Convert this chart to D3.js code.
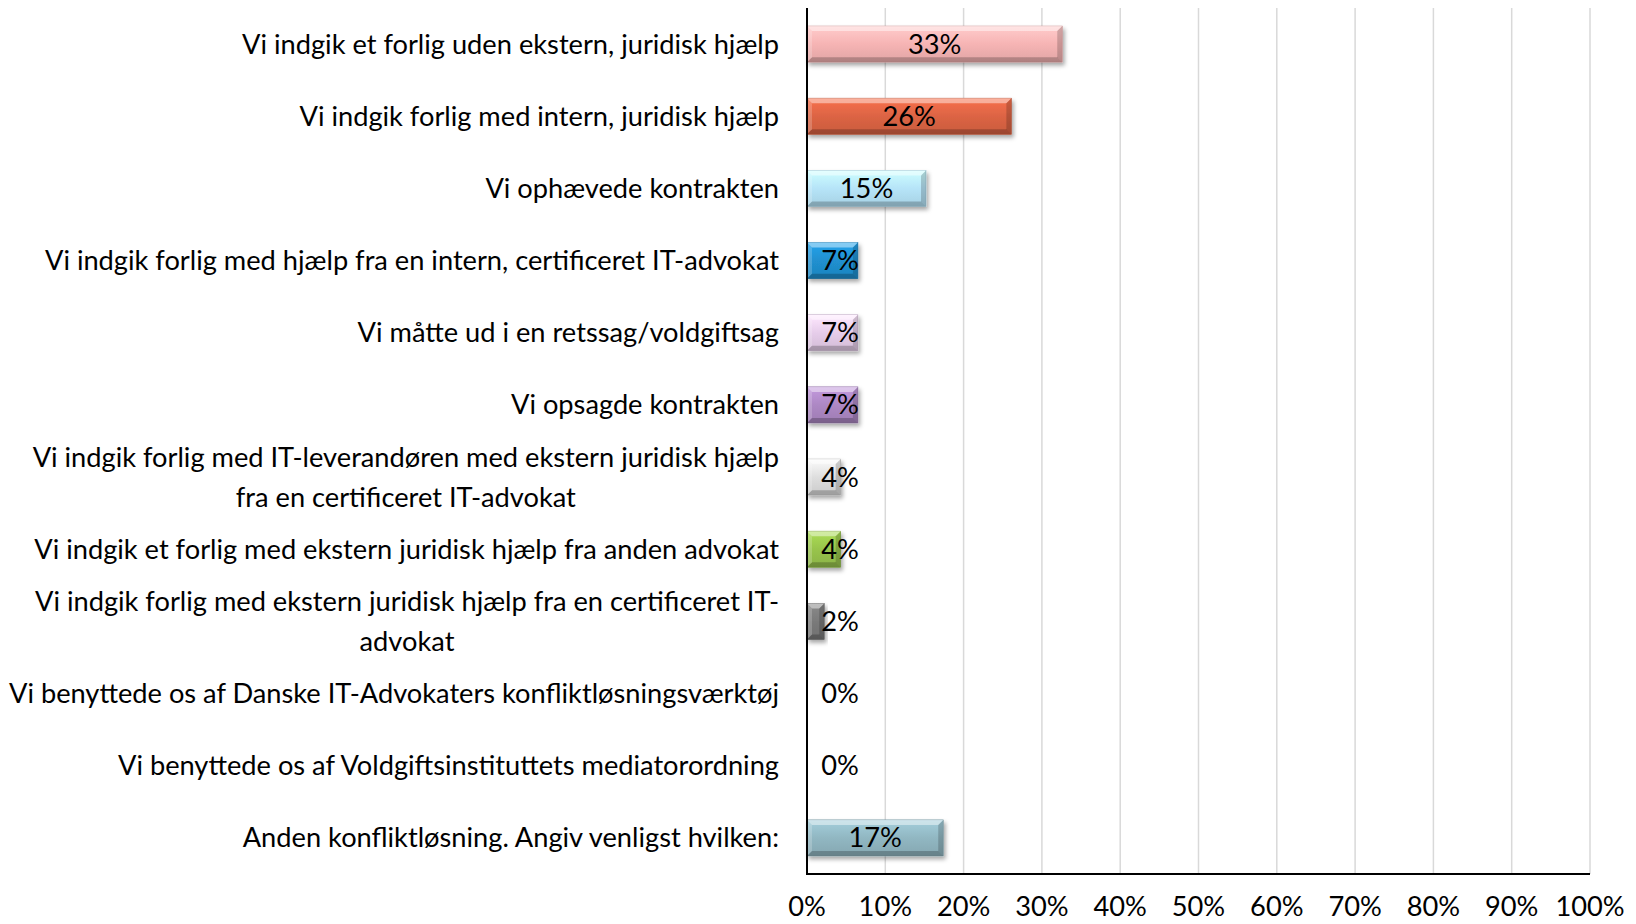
<!DOCTYPE html>
<html>
<head>
<meta charset="utf-8">
<script src="https://cdn.jsdelivr.net/npm/d3@7"></script>
<style>
  html, body { margin: 0; padding: 0; background: #fff; }
  svg text { font-family: Lato, "Open Sans", sans-serif; fill: #000; }
</style>
</head>
<body>
<svg id="chart" width="1636" height="924"></svg>
<script>
// categories (line breaks as in the original wrapping)
var categories = [
  "Vi indgik et forlig uden ekstern, juridisk hjælp",
  "Vi indgik forlig med intern, juridisk hjælp",
  "Vi ophævede kontrakten",
  "Vi indgik forlig med hjælp fra en intern, certificeret IT-advokat",
  "Vi måtte ud i en retssag/voldgiftsag",
  "Vi opsagde kontrakten",
  "Vi indgik forlig med IT-leverandøren med ekstern juridisk hjælp\nfra en certificeret IT-advokat",
  "Vi indgik et forlig med ekstern juridisk hjælp fra anden advokat",
  "Vi indgik forlig med ekstern juridisk hjælp fra en certificeret IT-\nadvokat",
  "Vi benyttede os af Danske IT-Advokaters konfliktløsningsværktøj",
  "Vi benyttede os af Voldgiftsinstituttets mediatorordning",
  "Anden konfliktløsning. Angiv venligst hvilken:"
];
// share in percent
var values = [32.6, 26.1, 15.2, 6.5, 6.5, 6.5, 4.3, 4.3, 2.2, 0, 0, 17.4];
var barColors = ["#f6b4b4", "#dc6444", "#b6e4f8", "#2090d0", "#e6cdea",
                 "#ad88c4", "#dedede", "#98c44c", "#7a7a7a", "#cccccc", "#cccccc", "#91b7c2"];
var xTicks = [0, 10, 20, 30, 40, 50, 60, 70, 80, 90, 100];

var svg = d3.select("#chart");
var plot = {left: 807, right: 1590, top: 8, bottom: 874};

var x = d3.scaleLinear().domain([0, 100]).range([plot.left, plot.right]);
var y = d3.scaleBand().domain(categories)
  .range([plot.top, plot.bottom])
  .paddingInner(0.5).paddingOuter(0.25);

// font size fitted so text runs like the original Calibri
var probe = svg.append("text").style("font-size", "24px").text(categories[0]);
var fs = 24 * 537 / probe.node().getComputedTextLength();
probe.remove();

// defs: gradients + shadow
var defs = svg.append("defs");
var shadow = defs.append("filter").attr("id", "shadow")
  .attr("x", "-10%").attr("y", "-30%").attr("width", "130%").attr("height", "180%");
shadow.append("feDropShadow").attr("dx", 2).attr("dy", 3)
  .attr("stdDeviation", 2).attr("flood-color", "#000").attr("flood-opacity", 0.35);

barColors.forEach(function(c, i) {
  var g = defs.append("linearGradient").attr("id", "grad" + i)
    .attr("x1", 0).attr("y1", 0).attr("x2", 0).attr("y2", 1);
  g.append("stop").attr("offset", "0%").attr("stop-color", d3.color(c).brighter(0.35));
  g.append("stop").attr("offset", "50%").attr("stop-color", c);
  g.append("stop").attr("offset", "100%").attr("stop-color", d3.color(c).darker(0.25));
});

// gridlines
svg.append("g")
  .selectAll("line")
  .data(xTicks.slice(1))
  .enter().append("line")
  .attr("x1", function(d) { return x(d); })
  .attr("x2", function(d) { return x(d); })
  .attr("y1", plot.top)
  .attr("y2", plot.bottom)
  .attr("stroke", "#d9d9d9")
  .attr("stroke-width", 1.5);

// bars
var data = categories.map(function(c, i) { return {cat: c, value: values[i], i: i}; });
var bars = svg.append("g").selectAll("g.bar")
  .data(data.filter(function(d) { return d.value > 0; }))
  .enter().append("g").attr("class", "bar");

bars.append("rect")
  .attr("x", x(0))
  .attr("y", function(d) { return y(d.cat); })
  .attr("width", function(d) { return x(d.value) - x(0); })
  .attr("height", y.bandwidth())
  .attr("fill", function(d) { return "url(#grad" + d.i + ")"; })
  .attr("stroke", function(d) { return d3.color(barColors[d.i]).darker(0.5); })
  .attr("stroke-width", 0.6)
  .attr("filter", "url(#shadow)");

// bevel facets
function bevel(d, side) {
  var x0 = x(0), x1 = x(d.value), y0 = y(d.cat), y1 = y0 + y.bandwidth();
  var b = Math.min(5, (x1 - x0) / 2);
  var pts;
  if (side === "top") pts = [[x0, y0], [x1, y0], [x1 - b, y0 + b], [x0 + b, y0 + b]];
  if (side === "bottom") pts = [[x0, y1], [x1, y1], [x1 - b, y1 - b], [x0 + b, y1 - b]];
  if (side === "left") pts = [[x0, y0], [x0 + b, y0 + b], [x0 + b, y1 - b], [x0, y1]];
  if (side === "right") pts = [[x1, y0], [x1 - b, y0 + b], [x1 - b, y1 - b], [x1, y1]];
  return pts.map(function(p) { return p.join(","); }).join(" ");
}
[["top", "#fff", 0.45], ["left", "#fff", 0.2], ["right", "#000", 0.18], ["bottom", "#000", 0.22]]
  .forEach(function(s) {
    bars.append("polygon")
      .attr("points", function(d) { return bevel(d, s[0]); })
      .attr("fill", s[1])
      .attr("fill-opacity", s[2]);
  });

// value labels
svg.append("g").selectAll("text")
  .data(data)
  .enter().append("text")
  .attr("x", function(d) { return Math.max((x(0) + x(d.value)) / 2, x(0) + 33); })
  .attr("y", function(d) { return y(d.cat) + y.bandwidth() / 2; })
  .attr("dy", "0.35em")
  .attr("text-anchor", "middle")
  .style("font-size", fs + "px")
  .text(function(d) { return Math.round(d.value) + "%"; });

// category labels
var labelRight = plot.left - 28;
var catG = svg.append("g");
data.forEach(function(d) {
  var lines = d.cat.split("\n");
  var t = catG.append("text")
    .style("font-size", fs + "px")
    .attr("text-anchor", lines.length > 1 ? "middle" : "end");
  var lh = fs * 1.47;
  var cy = y(d.cat) + y.bandwidth() / 2;
  lines.forEach(function(l, k) {
    t.append("tspan")
      .attr("x", labelRight)
      .attr("y", cy + (k - (lines.length - 1) / 2) * lh)
      .attr("dy", "0.35em")
      .text(l);
  });
  if (lines.length > 1) {
    // centre wrapped lines under the widest one, right-aligned as a block
    var w = d3.max(t.selectAll("tspan").nodes(), function(n) { return n.getComputedTextLength(); });
    t.selectAll("tspan").attr("x", labelRight - w / 2);
  }
});

// axes lines
svg.append("line")
  .attr("x1", x(0)).attr("x2", x(0))
  .attr("y1", plot.top).attr("y2", plot.bottom)
  .attr("stroke", "#000").attr("stroke-width", 2);
svg.append("line")
  .attr("x1", x(0) - 1).attr("x2", x(100))
  .attr("y1", plot.bottom).attr("y2", plot.bottom)
  .attr("stroke", "#000").attr("stroke-width", 2);

// x tick labels
svg.append("g").selectAll("text")
  .data(xTicks)
  .enter().append("text")
  .attr("x", function(d) { return x(d); })
  .attr("y", 906)
  .attr("dy", "0.35em")
  .attr("text-anchor", "middle")
  .style("font-size", fs + "px")
  .text(function(d) { return d + "%"; });
</script>
</body>
</html>
